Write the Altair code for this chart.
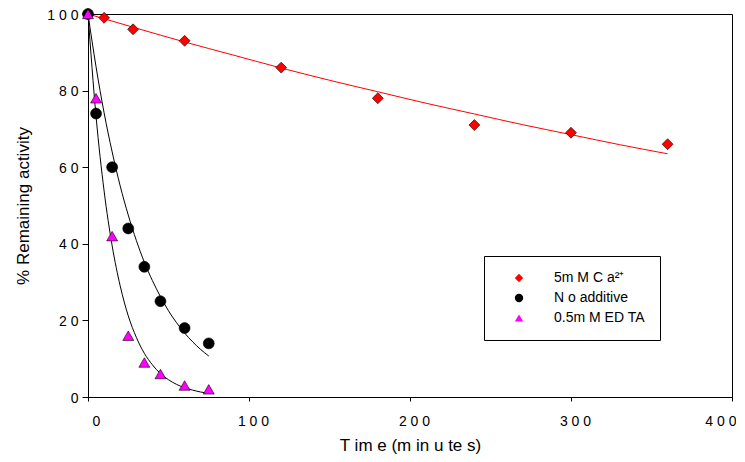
import altair as alt
import pandas as pd

# ---- data ----
series_names = ["5m M C a²⁺", "N o additive", "0.5m M ED TA"]
series_colors = ["#FF0000", "#000000", "#FF00FF"]
series_shapes = ["diamond", "circle", "triangle-up"]

ca_t = [0, 10, 28, 60, 120, 180, 240, 300, 360]
ca_v = [100, 99, 96, 93, 86, 78, 71, 69, 66]

no_t = [0, 5, 15, 25, 35, 45, 60, 75]
no_v = [100, 74, 60, 44, 34, 25, 18, 14]

edta_t = [0, 5, 15, 25, 35, 45, 60, 75]
edta_v = [100, 78, 42, 16, 9, 6, 3, 2]

# fitted curves
fit_ca_t = [0, 30, 60, 90, 120, 150, 180, 210, 240, 270, 300, 330, 360]
fit_ca_v = [100, 96.3, 92.7, 89.3, 85.9, 82.7, 79.7, 76.7, 73.9, 71.1, 68.5, 65.9, 63.5]

fit_short_t = [0, 5, 10, 15, 20, 25, 30, 35, 40, 45, 50, 55, 60, 65, 70, 75]
fit_no_v = [100, 86.2, 74.2, 64.0, 55.1, 47.5, 40.9, 35.2, 30.4, 26.2, 22.5, 19.4, 16.7, 14.4, 12.4, 10.7]
fit_edta_v = [100, 73.3, 53.8, 39.5, 29.0, 21.2, 15.6, 11.4, 8.4, 6.1, 4.5, 3.3, 2.4, 1.8, 1.3, 1.0]

x_ticks = [0, 100, 200, 300, 400]
y_ticks = [0, 20, 40, 60, 80, 100]

# ---- tables ----
pts = pd.concat([
    pd.DataFrame({"t": ca_t, "v": ca_v, "series": series_names[0]}),
    pd.DataFrame({"t": no_t, "v": no_v, "series": series_names[1]}),
    pd.DataFrame({"t": edta_t, "v": edta_v, "series": series_names[2]}),
], ignore_index=True)

fit_red = pd.DataFrame({"t": fit_ca_t, "v": fit_ca_v})
fit_black = pd.concat([
    pd.DataFrame({"t": fit_short_t, "v": fit_no_v, "series": "no"}),
    pd.DataFrame({"t": fit_short_t, "v": fit_edta_v, "series": "edta"}),
], ignore_index=True)

FONT = "Liberation Sans"
spaced = "join(split(datum.label, ''), ' ')"

x_enc = alt.X(
    "t:Q",
    scale=alt.Scale(domain=[0, 400], nice=False, zero=False),
    axis=alt.Axis(
        values=x_ticks, title="T im e (m in u te s)", titleFontSize=17,
        tickSize=4, labelPadding=13, titlePadding=9, labelExpr=spaced,
        labelFlush=True, labelFlushOffset=0, labelOffset=4,
    ),
)
y_enc = alt.Y(
    "v:Q",
    scale=alt.Scale(domain=[0, 100], nice=False),
    axis=alt.Axis(
        values=y_ticks, title="% Remaining activity", titleFontSize=17,
        tickSize=6, labelPadding=4, titlePadding=14, labelExpr=spaced,
        labelOffset=1,
    ),
)

line_red = alt.Chart(fit_red).mark_line(
    color="#FF0000", strokeWidth=1, interpolate="monotone"
).encode(x=x_enc, y=y_enc)

line_black = alt.Chart(fit_black).mark_line(
    color="#000000", strokeWidth=1, interpolate="monotone"
).encode(x=x_enc, y=y_enc, detail="series:N")

leg = alt.Legend(
    title=None, orient="none", legendX=396, legendY=242,
    strokeColor="#000000", fillColor="#FFFFFF",
    padding=15, symbolOffset=13, labelOffset=28, rowPadding=6,
    labelFont=FONT, labelFontSize=14, labelColor="#000000",
    symbolSize=70, symbolStrokeColor="#000000", symbolStrokeWidth=0.6,
)

points = alt.Chart(pts).mark_point(
    filled=True, opacity=1, stroke="#000000", strokeWidth=0.6, size=120
).encode(
    x=x_enc,
    y=y_enc,
    fill=alt.Fill("series:N", scale=alt.Scale(domain=series_names, range=series_colors), legend=leg),
    shape=alt.Shape("series:N", scale=alt.Scale(domain=series_names, range=series_shapes), legend=leg),
)

chart = alt.layer(line_red, line_black, points).properties(
    width=644, height=383,
    autosize=alt.AutoSizeParams(type="none"),
    padding={"left": 80, "top": 6, "right": 4, "bottom": 57},
    background="white",
).configure_view(
    stroke="#000000", strokeWidth=1
).configure_axis(
    grid=False, domainColor="#000000", tickColor="#000000",
    labelColor="#000000", titleColor="#000000",
    labelFont=FONT, titleFont=FONT, labelFontSize=14, titleFontWeight="normal",
)

chart.save("out.html", embed_options={"renderer": "svg", "actions": False})
